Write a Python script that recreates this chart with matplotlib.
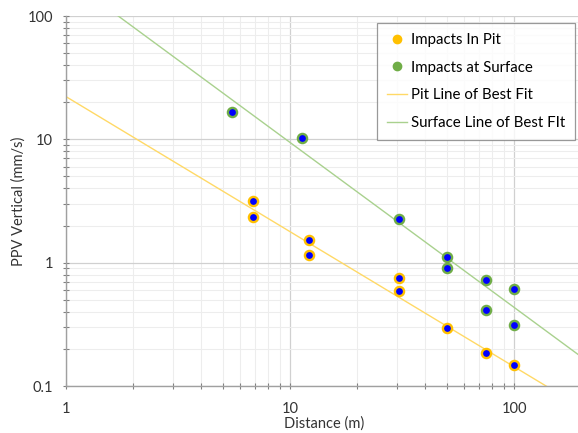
import numpy as np
import matplotlib
matplotlib.use("Agg")
import matplotlib.pyplot as plt
from matplotlib.ticker import LogLocator, FixedLocator, NullFormatter, FixedFormatter

# Data
pit_dist = [6.85, 6.85, 12.2, 12.2, 30.7, 30.7, 50.2, 75, 100]
pit_ppv = [3.15, 2.35, 1.53, 1.15, 0.75, 0.59, 0.295, 0.186, 0.148]
surf_dist = [5.5, 11.3, 30.7, 50.2, 50.2, 75, 75, 100, 100]
surf_ppv = [16.8, 10.3, 2.27, 1.12, 0.91, 0.725, 0.41, 0.607, 0.312]

# Power-law trendlines  y = a * x^b
pit_fit = (22.2, -1.095)
surf_fit = (205.0, -1.337)

x_ticks = [1, 10, 100]
x_tick_labels = ["1", "10", "100"]
y_ticks = [0.1, 1, 10, 100]
y_tick_labels = ["0.1", "1", "10", "100"]

plt.rcParams['font.family'] = ['Lato', 'DejaVu Sans']

fig = plt.figure(figsize=(5.78, 4.33), dpi=100)
ax = fig.add_axes([66/578, 47/433, (581.5-66)/578, (386-16)/433])
ax.set_xscale('log')
ax.set_yscale('log')
ax.set_xlim(1, 200)
ax.set_ylim(0.1, 100)

# gridlines
ax.grid(which='minor', color='#ededed', linewidth=0.8)
ax.grid(which='major', color='#d0d0d0', linewidth=0.9)
ax.set_axisbelow(True)

xs = np.logspace(0, np.log10(200), 200)
ax.plot(xs, pit_fit[0] * xs ** pit_fit[1], color='#FFD966', lw=1.0,
        label='Pit Line of Best Fit', zorder=2)
ax.plot(xs, surf_fit[0] * xs ** surf_fit[1], color='#A9D18E', lw=1.0,
        label='Surface Line of Best FIt', zorder=2)

ax.plot(pit_dist, pit_ppv, 'o', ms=6.6, mfc='#0000FF', mec='#FFC000', mew=1.7,
        zorder=3)
ax.plot(surf_dist, surf_ppv, 'o', ms=6.6, mfc='#0000FF', mec='#70AD47', mew=1.7,
        zorder=3)

# legend proxies
h1, = ax.plot([], [], 'o', color='#FFC000', ms=6, label='Impacts In Pit')
h2, = ax.plot([], [], 'o', color='#70AD47', ms=6, label='Impacts at Surface')
lines = ax.get_lines()
leg = ax.legend(handles=[h1, h2, lines[0], lines[1]], loc='upper right',
                bbox_to_anchor=(0.9875, 0.981), frameon=True, fancybox=False,
                edgecolor='#808080', fontsize=10.8, labelspacing=0.92,
                handlelength=1.3, handletextpad=0.3, borderpad=0.65,
                borderaxespad=0)
leg.get_frame().set_linewidth(0.9)

for s in ['top', 'right']:
    ax.spines[s].set_visible(False)
for s in ['left', 'bottom']:
    ax.spines[s].set_color('#a0a0a0')
    ax.spines[s].set_linewidth(1.0)

ax.xaxis.set_major_locator(FixedLocator(x_ticks))
ax.xaxis.set_major_formatter(FixedFormatter(x_tick_labels))
ax.yaxis.set_major_locator(FixedLocator(y_ticks))
ax.yaxis.set_major_formatter(FixedFormatter(y_tick_labels))
ax.xaxis.set_minor_locator(LogLocator(base=10, subs=np.arange(2, 10)))
ax.yaxis.set_minor_locator(LogLocator(base=10, subs=np.arange(2, 10)))
ax.xaxis.set_minor_formatter(NullFormatter())
ax.yaxis.set_minor_formatter(NullFormatter())
ax.tick_params(which='both', direction='inout', length=5, width=0.8,
               color='#808080', labelsize=10.5, labelcolor='#333333')
ax.tick_params(axis='x', which='both', pad=9)
ax.tick_params(axis='y', which='both', pad=7)

ax.set_xlabel('Distance (m)', fontsize=10.5, color='#333333', labelpad=0)
ax.set_ylabel('PPV Vertical (mm/s)', fontsize=10.5, color='#333333', labelpad=1)

fig.savefig('out.png', dpi=100)
